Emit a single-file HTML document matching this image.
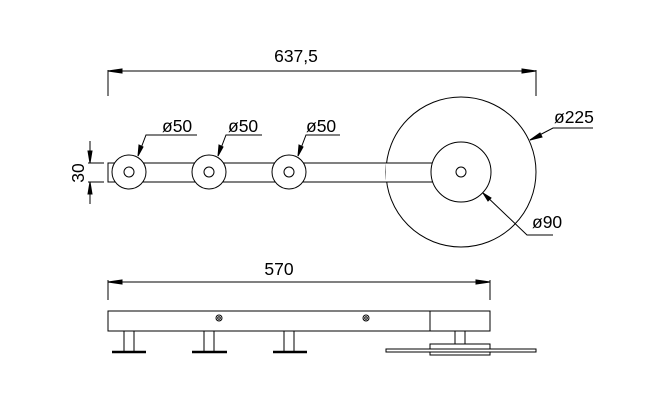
<!DOCTYPE html>
<html><head><meta charset="utf-8"><style>html,body{margin:0;padding:0;background:#fff}svg{display:block}</style></head>
<body>
<svg width="649" height="406" viewBox="0 0 649 406" xmlns="http://www.w3.org/2000/svg" font-family="Liberation Sans, sans-serif" fill="none" stroke="#000" stroke-width="1">
<!-- top dim -->
<line x1="108" y1="70" x2="108" y2="96"/><line x1="536" y1="70" x2="536" y2="96"/>
<line x1="108" y1="71" x2="536" y2="71"/>
<path d="M108 71 L122 69 L122 73Z M536 71 L522 69 L522 73Z" fill="#000"/>
<text x="296" y="62" font-size="17.5" fill="#000" stroke="none" text-anchor="middle">637,5</text>
<!-- 30 dim -->
<line x1="88" y1="163" x2="104" y2="163"/><line x1="88" y1="182" x2="104" y2="182"/>
<line x1="90" y1="141" x2="90" y2="163"/><line x1="90" y1="182" x2="90" y2="204"/>
<path d="M90 163 L88 151 L92 151Z M90 182 L88 194 L92 194Z" fill="#000"/>
<text x="0" y="0" font-size="17.5" fill="#000" stroke="none" text-anchor="middle" transform="translate(84,173) rotate(-90)">30</text>
<!-- bar -->
<rect x="108" y="163" width="323" height="19" fill="#fff"/>
<g fill="#fff">
<circle cx="129" cy="172" r="17"/><circle cx="209" cy="172" r="17"/><circle cx="289" cy="172" r="17"/>
</g>
<circle cx="129" cy="172" r="5"/><circle cx="209" cy="172" r="5"/><circle cx="289" cy="172" r="5"/>
<!-- big -->
<circle cx="461" cy="172" r="75"/>
<rect x="386" y="163" width="50" height="19" fill="#fff" stroke="none"/>
<line x1="386" y1="163" x2="435" y2="163"/><line x1="386" y1="182" x2="435" y2="182"/>
<circle cx="461" cy="172" r="30" fill="#fff"/>
<circle cx="461" cy="172" r="5"/>
<!-- leaders ø50 -->
<path d="M138 156 L146 135 L197 135 M218 156 L226 135 L262 135 M298 156 L306 135 L340 135"/>
<path d="M138 156 L139 145 L143 147Z M218 156 L219 145 L223 147Z M298 156 L299 145 L303 147Z" fill="#000"/>
<g font-size="17.5" fill="#000" stroke="none">
<text x="162" y="132">ø50</text><text x="228" y="132">ø50</text><text x="306" y="132">ø50</text>
<text x="554" y="123">ø225</text><text x="532" y="228">ø90</text>
<text x="279" y="275" text-anchor="middle">570</text>
</g>
<path d="M530 140 L553 128 L593 128 M483 193 L527 235 L553 235"/>
<path d="M530 140 L540 133 L542 137Z M483 193 L491 198 L488 201Z" fill="#000"/>
<!-- bottom dim -->
<line x1="108" y1="280" x2="108" y2="300"/><line x1="490" y1="280" x2="490" y2="300"/>
<line x1="108" y1="282" x2="490" y2="282"/>
<path d="M108 282 L122 280 L122 284Z M490 282 L476 280 L476 284Z" fill="#000"/>
<!-- side view -->
<rect x="108" y="311" width="382" height="20"/>
<line x1="430" y1="311" x2="430" y2="331"/>
<circle cx="219" cy="318" r="3"/><circle cx="219" cy="318" r="1.3"/>
<circle cx="366" cy="318" r="3"/><circle cx="366" cy="318" r="1.3"/>
<path d="M124 331 V351 M134 331 V351 M204 331 V351 M214 331 V351 M284 331 V351 M294 331 V351 M455 331 V344 M465 331 V344"/>
<g stroke-width="2.5"><line x1="112" y1="352" x2="146" y2="352"/><line x1="192" y1="352" x2="227" y2="352"/><line x1="273" y1="352" x2="307" y2="352"/></g>
<rect x="430" y="344" width="60" height="11"/>
<rect x="386" y="349" width="150" height="3" fill="#fff"/>
</svg>
</body></html>
